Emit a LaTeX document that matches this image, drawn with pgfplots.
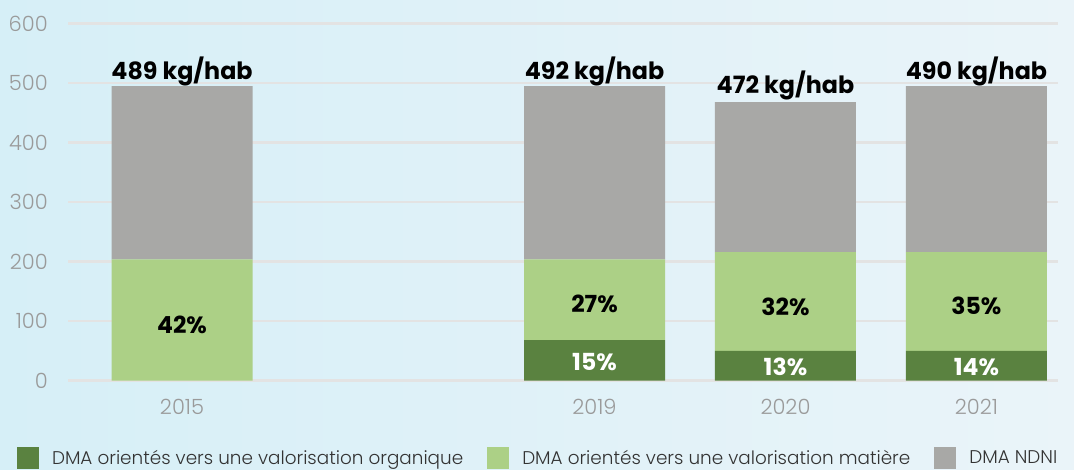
\documentclass[border=0pt]{standalone}
\usepackage{fontspec}
\setmainfont{Poppins}[UprightFont=* Light, BoldFont=* Bold]
\usepackage{pgfplots}
\pgfplotsset{compat=1.18}
\definecolor{dkgreen}{HTML}{5A8240}
\definecolor{ltgreen}{HTML}{ACD086}
\definecolor{ndni}{HTML}{A8A8A6}
\definecolor{bgL}{HTML}{D6EFF7}
\definecolor{bgR}{HTML}{EAF4F9}
\definecolor{gridc}{HTML}{E3E3E3}
\definecolor{tickc}{HTML}{9A9A9A}
\definecolor{legc}{HTML}{333333}
\begin{document}
\begin{tikzpicture}[x=1pt,y=1pt]
\useasboundingbox (0,0) rectangle (1074,469);
\shade[left color=bgL, right color=bgR] (0,0) rectangle (1074,469);
\begin{axis}[
  at={(68pt,88.3pt)}, anchor=south west,
  scale only axis, width=990pt, height=357pt,
  xmin=0.243, xmax=5.427, ymin=0, ymax=600,
  clip=false,
  ybar stacked, bar width=141pt,
  axis line style={draw=none}, tick style={draw=none},
  major tick length=0pt,
  /pgf/number format/assume math mode=true,
  ytick={0,100,...,600},
  ymajorgrids, grid style={gridc, line width=2.5pt},
  xtick={0.84,3,4,5}, xticklabels={2015,2019,2020,2021},
  yticklabel style={anchor=east, inner sep=0pt, xshift=-20pt, font=\fontsize{21}{21}\selectfont, text=tickc},
  xticklabel style={anchor=north, inner sep=0pt, yshift=-18.6pt, font=\fontsize{21}{21}\selectfont, text=tickc},
  legend columns=3,
  legend style={at={(-0.0515,-0.2165)}, anchor=west, draw=none, fill=none, inner sep=0pt, outer sep=0pt,
    font=\fontsize{18.4}{18.4}\selectfont, text=legc,
    nodes={inner sep=0pt},
    /tikz/every odd column/.append style={column sep=13pt},
    /tikz/every even column/.append style={column sep=24pt}},
  legend image code/.code={\fill[#1] (0pt,-11pt) rectangle (22pt,11pt);},
]
\addplot[fill=dkgreen, draw=none] coordinates {(0.84,0) (3,68) (4,50) (5,50)};
\addlegendentry{DMA orientés vers une valorisation organique}
\addplot[fill=ltgreen, draw=none] coordinates {(0.84,204) (3,136) (4,166) (5,166)};
\addlegendentry{DMA orientés vers une valorisation matière}
\addplot[fill=ndni, draw=none] coordinates {(0.84,291) (3,291) (4,252) (5,279)};
\addlegendentry{DMA NDNI}
\end{axis}
\begin{axis}[
  at={(68pt,88.3pt)}, anchor=south west,
  scale only axis, width=990pt, height=357pt,
  xmin=0.243, xmax=5.427, ymin=0, ymax=600,
  clip=false, hide axis,
]
\addplot[draw=none, nodes near coords, point meta=explicit symbolic,
  every node near coord/.style={anchor=base, inner sep=0pt, text=black, font=\bfseries\fontsize{23.8}{23.8}\selectfont}]
  table[col sep=comma, meta=lab] {
x,y,lab
0.84,507,489 kg/hab
3,507,492 kg/hab
4,482,472 kg/hab
5,507,490 kg/hab
};
\addplot[draw=none, nodes near coords, point meta=explicit symbolic,
  every node near coord/.style={anchor=center, inner sep=0pt, text=black, font=\bfseries\fontsize{23.5}{23.5}\selectfont}]
  table[meta=lab] {
x y lab
0.84 93.6 42\%
3 128.6 27\%
4 124 32\%
5 125.5 35\%
};
\addplot[draw=none, nodes near coords, point meta=explicit symbolic,
  every node near coord/.style={anchor=center, inner sep=0pt, text=white, font=\bfseries\fontsize{23.5}{23.5}\selectfont}]
  table[meta=lab] {
x y lab
3 31.5 15\%
4 23 13\%
5 23 14\%
};
\end{axis}
\end{tikzpicture}
\end{document}
